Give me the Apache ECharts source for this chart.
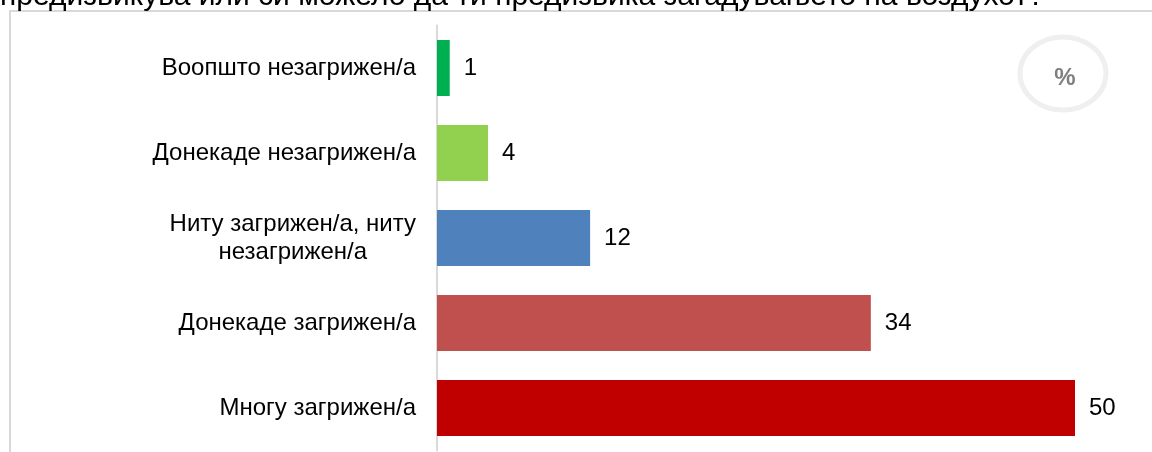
<!DOCTYPE html>
<html>
<head>
<meta charset="utf-8">
<script src="https://cdn.jsdelivr.net/npm/echarts@6/dist/echarts.min.js"></script>
<style>
html,body{margin:0;padding:0;background:#fff;}
#chart{width:1152px;height:452px;}
</style>
</head>
<body>
<div id="chart"></div>
<script>
const titleText = 'предизвикува или си можело да ти предизвика загадувањето на воздухот?';
const categories = ['Воопшто незагрижен/а', 'Донекаде незагрижен/а', 'Ниту загрижен/а, ниту\nнезагрижен/а', 'Донекаде загрижен/а', 'Многу загрижен/а'];
const values = [1, 4, 12, 34, 50];
const barColors = ['#00b050', '#92d050', '#4f81bd', '#c0504d', '#c00000'];
const unitLabel = '%';

const font = 'Arial, "Liberation Sans", sans-serif';
const chart = echarts.init(document.getElementById('chart'), null, {renderer: 'canvas'});

chart.setOption({
  animation: false,
  backgroundColor: '#ffffff',
  grid: {left: 437, top: 25.5, height: 425, right: 77, containLabel: false},
  xAxis: {type: 'value', min: 0, max: 50, show: false},
  yAxis: {
    type: 'category',
    inverse: true,
    data: categories,
    offset: 1,
    axisLine: {show: true, lineStyle: {color: '#d9d9d9', width: 2}},
    axisTick: {show: false},
    splitLine: {show: false},
    axisLabel: {
      margin: 20,
      color: '#000000',
      fontFamily: font,
      fontSize: 24,
      lineHeight: 28,
      formatter: function (v) {
        if (v.indexOf('\n') >= 0) {
          const p = v.split('\n');
          return '{a|' + p[0] + '}\n{b|' + p[1] + '}';
        }
        return v;
      },
      rich: {
        a: {fontFamily: font, fontSize: 24, color: '#000', lineHeight: 28},
        b: {fontFamily: font, fontSize: 24, color: '#000', lineHeight: 28, width: 244, align: 'center'}
      }
    }
  },
  series: [{
    type: 'bar',
    barWidth: 56,
    data: values.map(function (v, i) { return {value: v, itemStyle: {color: barColors[i]}}; }),
    label: {
      show: true,
      position: 'right',
      distance: 14,
      color: '#000000',
      fontFamily: font,
      fontSize: 24
    }
  }],
  graphic: [
    {type: 'rect', silent: true, shape: {x: 10, y: 11, width: 1300, height: 600},
     style: {fill: 'none', stroke: '#d9d9d9', lineWidth: 2}, z: -10},
    {type: 'text', silent: true, x: 0, y: -3,
     style: {text: titleText, font: '30px ' + font, fill: '#000', textAlign: 'left', textVerticalAlign: 'middle'}},
    {type: 'ellipse', silent: true, shape: {cx: 1063, cy: 73.5, rx: 43, ry: 36.5},
     style: {fill: 'none', stroke: '#efefef', lineWidth: 5}},
    {type: 'text', silent: true, x: 1065, y: 78,
     style: {text: unitLabel, font: 'bold 24px ' + font, fill: '#7f7f7f', textAlign: 'center', textVerticalAlign: 'middle'}}
  ]
});
</script>
</body>
</html>
